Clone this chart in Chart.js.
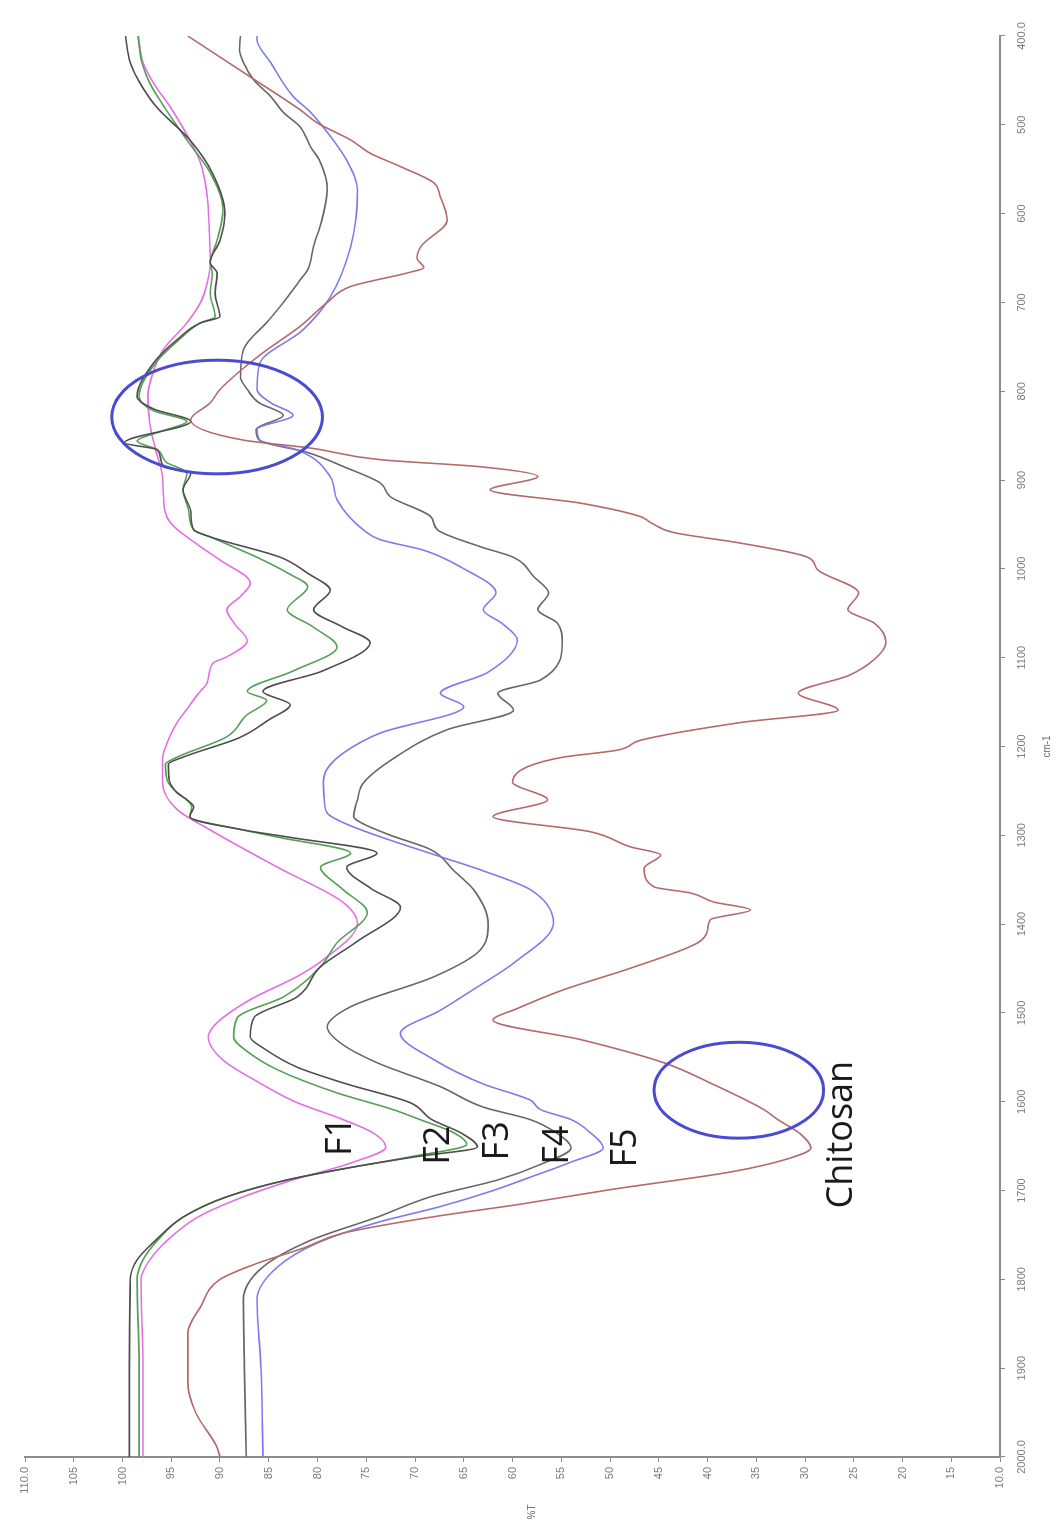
<!DOCTYPE html>
<html>
<head>
<meta charset="utf-8">
<script src="https://cdn.jsdelivr.net/npm/chart.js@4.4.0/dist/chart.umd.min.js"></script>
<style>
  html, body { margin: 0; padding: 0; background: #fff; }
  #page { position: relative; width: 1058px; height: 1526px; overflow: hidden; }
  /* the spectrum is printed turned a quarter turn, so draw it upright and rotate */
  #turn { position: absolute; left: 0; top: 0; width: 1526px; height: 1058px;
          transform-origin: 0 0; transform: translate(0, 1526px) rotate(-90deg); }
</style>
</head>
<body>
<div id="page"><div id="turn"><canvas id="ftir" width="1526" height="1058"></canvas></div></div>
<script>
// FTIR spectra, [wavenumber cm-1, %T]
const f1 = [[2000, 97.9], [1900, 97.9], [1800, 98.1], [1778, 97.2], [1756, 95.4], [1730, 92.3], [1707, 87.6], [1688, 82.5],
  [1669, 76.6], [1651, 73.0], [1635, 74.3], [1620, 77.4], [1600, 82.3], [1579, 85.9], [1553, 89.7], [1527, 91.2], [1511, 90.3],
  [1485, 86.9], [1459, 82.1], [1440, 79.4], [1399, 75.9], [1376, 77.3], [1336, 84.1], [1294, 91.0], [1271, 94.4], [1241, 95.9],
  [1215, 95.9], [1190, 95.2], [1173, 94.4], [1155, 93.2], [1140, 92.2], [1128, 91.3], [1106, 90.7], [1099, 89.3], [1081, 87.2],
  [1062, 88.5], [1046, 89.3], [1030, 87.8], [1016, 86.9], [990, 90.0], [975, 92.0], [948, 95.1], [919, 95.8], [896, 95.9],
  [866, 96.6], [836, 97.2], [806, 97.4], [780, 96.9], [753, 95.8], [723, 93.4], [700, 92.0], [678, 91.3], [655, 91.0],
  [620, 91.1], [581, 91.3], [543, 92.0], [517, 93.1], [480, 95.1], [455, 96.7], [430, 97.9], [400, 98.4]];

const f2 = [[2000, 98.3], [1900, 98.3], [1800, 98.5], [1778, 97.9], [1756, 96.4], [1730, 93.8], [1707, 89.3], [1688, 83.1],
  [1674, 76.6], [1662, 70.5], [1648, 64.7], [1635, 66.0], [1620, 69.5], [1609, 72.2], [1590, 78.0], [1564, 84.1], [1545, 87.0],
  [1527, 88.6], [1505, 88.2], [1482, 83.5], [1448, 79.7], [1421, 78.0], [1387, 74.9], [1360, 77.5], [1336, 79.7], [1320, 76.6],
  [1302, 84.1], [1294, 87.6], [1279, 93.1], [1268, 92.9], [1260, 93.4], [1252, 94.4], [1238, 95.4], [1220, 95.6], [1212, 94.4],
  [1189, 89.3], [1165, 87.3], [1148, 85.2], [1138, 87.2], [1115, 82.5], [1088, 78.0], [1065, 80.5], [1046, 83.1], [1020, 81.0],
  [1005, 83.0], [987, 86.2], [964, 91.0], [956, 92.7], [935, 93.2], [911, 93.8], [892, 93.4], [880, 95.5], [866, 96.4],
  [856, 98.5], [845, 96.0], [834, 93.4], [822, 96.8], [806, 98.3], [768, 96.6], [742, 94.2], [723, 92.0], [716, 90.5],
  [690, 91.0], [667, 90.8], [655, 91.0], [630, 90.3], [596, 89.7], [554, 91.0], [517, 93.4], [480, 95.7], [453, 97.2],
  [430, 98.0], [400, 98.4]];

const f3 = [[2000, 99.3], [1900, 99.3], [1800, 99.2], [1778, 98.5], [1756, 96.6], [1730, 93.8], [1707, 89.3], [1688, 83.1],
  [1674, 76.6], [1662, 70.0], [1651, 63.6], [1635, 65.3], [1620, 68.3], [1601, 70.5], [1580, 77.0], [1561, 82.1], [1540, 85.5],
  [1527, 86.9], [1505, 86.5], [1482, 82.1], [1448, 79.7], [1420, 76.0], [1381, 71.5], [1360, 74.5], [1336, 77.0], [1320, 73.9],
  [1302, 83.0], [1294, 87.6], [1279, 93.1], [1268, 92.7], [1260, 93.4], [1252, 94.4], [1238, 95.2], [1220, 95.3], [1212, 93.8],
  [1190, 88.0], [1170, 85.0], [1153, 82.8], [1138, 85.6], [1115, 79.5], [1083, 74.6], [1065, 77.5], [1046, 80.4], [1024, 78.7],
  [1005, 81.0], [987, 83.8], [964, 91.0], [956, 92.7], [935, 93.0], [911, 93.8], [892, 93.0], [885, 95.8], [866, 96.4],
  [858, 99.8], [834, 93.0], [820, 96.8], [806, 98.5], [768, 96.8], [742, 94.4], [723, 92.0], [716, 90.0], [690, 90.5],
  [667, 90.3], [655, 91.0], [630, 90.0], [600, 89.5], [554, 90.8], [517, 93.1], [480, 96.5], [453, 98.2], [430, 99.2],
  [400, 99.7]];

const f4 = [[2000, 87.3], [1900, 87.5], [1823, 87.6], [1786, 85.6], [1756, 80.7], [1730, 73.9], [1707, 68.4], [1688, 61.5],
  [1670, 57.0], [1652, 54.0], [1635, 55.5], [1620, 58.2], [1606, 63.0], [1583, 67.4], [1556, 73.9], [1535, 77.5], [1516, 79.0],
  [1493, 76.6], [1459, 68.0], [1429, 63.3], [1399, 62.5], [1361, 64.0], [1340, 66.0], [1316, 68.4], [1300, 72.5], [1286, 75.5],
  [1279, 76.3], [1260, 75.9], [1241, 75.3], [1212, 72.0], [1181, 66.7], [1159, 59.9], [1140, 61.5], [1125, 57.1], [1083, 54.9],
  [1061, 55.4], [1046, 57.4], [1027, 56.3], [1009, 57.8], [987, 59.9], [975, 63.3], [956, 67.7], [941, 68.4], [919, 72.5],
  [903, 73.6], [885, 77.3], [869, 81.0], [855, 86.0], [843, 86.3], [827, 83.5], [813, 86.0], [798, 87.2], [784, 87.9],
  [753, 87.6], [720, 85.0], [700, 83.5], [675, 81.8], [663, 81.0], [637, 80.4], [605, 79.5], [573, 79.0], [540, 79.8],
  [525, 80.7], [502, 81.8], [486, 83.5], [468, 84.8], [450, 86.5], [430, 87.6], [415, 88.0], [400, 87.9]];

const f5 = [[2000, 85.6], [1900, 85.8], [1823, 86.2], [1786, 84.1], [1759, 80.0], [1736, 73.9], [1718, 67.4], [1700, 62.0],
  [1685, 58.2], [1668, 54.0], [1652, 50.7], [1635, 52.0], [1620, 54.0], [1609, 57.1], [1598, 58.2], [1580, 63.0], [1553, 68.0],
  [1523, 71.5], [1497, 67.4], [1470, 63.5], [1444, 59.9], [1399, 55.8], [1361, 58.2], [1340, 63.0], [1324, 67.4], [1300, 74.0],
  [1286, 77.3], [1275, 79.0], [1260, 79.3], [1241, 79.4], [1225, 79.0], [1207, 77.3], [1185, 73.6], [1155, 65.0], [1140, 67.4],
  [1117, 62.6], [1080, 59.5], [1062, 61.0], [1046, 63.0], [1027, 61.7], [998, 65.3], [979, 69.1], [967, 73.6], [956, 75.3],
  [922, 78.0], [896, 78.7], [866, 82.1], [855, 85.9], [843, 86.2], [827, 82.5], [813, 84.8], [798, 86.2], [768, 85.9],
  [731, 81.5], [694, 78.7], [637, 76.6], [573, 75.9], [540, 77.0], [517, 78.4], [486, 80.7], [468, 82.5], [430, 84.8],
  [404, 86.2], [400, 86.2]];

const chitosan = [[2000, 90.0], [1989, 90.3], [1950, 92.5], [1917, 93.3], [1860, 93.3], [1831, 92.0], [1800, 90.0], [1782, 86.2],
  [1765, 81.5], [1748, 77.4], [1730, 68.4], [1715, 59.0], [1699, 50.0], [1679, 37.6], [1665, 32.0], [1652, 29.4], [1636, 30.5],
  [1620, 32.8], [1609, 34.2], [1580, 39.5], [1556, 44.5], [1530, 53.0], [1508, 62.0], [1495, 59.5], [1474, 54.8], [1450, 48.0],
  [1421, 41.0], [1407, 40.0], [1395, 39.7], [1384, 35.6], [1375, 39.4], [1365, 41.7], [1358, 45.5], [1337, 46.5], [1322, 44.8],
  [1313, 47.9], [1296, 52.0], [1279, 62.0], [1260, 56.4], [1240, 60.0], [1223, 58.5], [1212, 54.8], [1204, 49.2], [1193, 46.9],
  [1173, 36.6], [1159, 26.6], [1140, 30.7], [1120, 25.5], [1102, 22.9], [1083, 21.7], [1061, 22.9], [1046, 25.6], [1027, 24.5],
  [1001, 28.7], [987, 29.7], [971, 36.6], [959, 43.5], [948, 45.8], [941, 46.9], [926, 53.0], [911, 62.3], [896, 57.4],
  [885, 63.3], [877, 73.6], [864, 80.7], [855, 87.6], [832, 93.0], [813, 91.0], [798, 90.0], [760, 86.0], [727, 81.8],
  [700, 79.0], [682, 76.6], [666, 70.5], [661, 69.1], [650, 69.8], [637, 69.4], [607, 66.7], [581, 67.4], [565, 68.1],
  [547, 71.5], [532, 74.6], [517, 76.6], [498, 80.0], [483, 81.8], [446, 86.9], [400, 93.3]];

// curve labels written on the plot
const labelText = ['F1', 'F2', 'F3', 'F4', 'F5', 'Chitosan'];
const labelWn = [1639, 1649, 1644, 1649, 1652, 1637];
const labelT = [77.6, 67.6, 61.5, 55.4, 48.4, 26.2];

// the two hand drawn rings (centre and half widths in data units)
const ringWn = [829, 1587];
const ringT = [90.3, 36.8];
const ringHalfWn = [64, 54];
const ringHalfT = [10.8, 8.7];

const toXY = arr => arr.map(p => ({ x: p[0], y: p[1] }));

const notes = {
    id: 'notes',
    afterDatasetsDraw(chart) {
        const { ctx, scales: { x, y } } = chart;
        ctx.save();
        // rings
        ctx.strokeStyle = '#4b4bd2';
        ctx.lineWidth = 3;
        ringWn.forEach((wn, i) => {
            const cx = x.getPixelForValue(wn), cy = y.getPixelForValue(ringT[i]);
            const rx = Math.abs(x.getPixelForValue(wn + ringHalfWn[i]) - cx);
            const ry = Math.abs(y.getPixelForValue(ringT[i] + ringHalfT[i]) - cy);
            ctx.beginPath();
            ctx.ellipse(cx, cy, rx, ry, 0, 0, Math.PI * 2);
            ctx.stroke();
        });
        // labels
        ctx.fillStyle = '#1a1a1a';
        ctx.font = '36px "Open Sans", sans-serif';
        ctx.textAlign = 'center';
        ctx.textBaseline = 'middle';
        labelText.forEach((t, i) => ctx.fillText(t, x.getPixelForValue(labelWn[i]), y.getPixelForValue(labelT[i])));
        // y axis name
        ctx.fillStyle = '#6a6a6a';
        ctx.font = '10px "Liberation Sans", sans-serif';
        ctx.fillText('%T', 14, y.getPixelForValue(58));
        ctx.restore();
    }
};

const axisGrey = '#8c8c8c';
const tickFont = { family: '"Liberation Sans", sans-serif', size: 11 };

new Chart(document.getElementById('ftir'), {
    type: 'line',
    data: {
        datasets: [
            { label: 'Chitosan', data: toXY(chitosan), borderColor: '#b46a6a' },
            { label: 'F5', data: toXY(f5), borderColor: '#7b7bee' },
            { label: 'F4', data: toXY(f4), borderColor: '#676767' },
            { label: 'F3', data: toXY(f3), borderColor: '#4e4e4e' },
            { label: 'F2', data: toXY(f2), borderColor: '#55a055' },
            { label: 'F1', data: toXY(f1), borderColor: '#e46ee4' }
        ]
    },
    options: {
        responsive: false,
        animation: false,
        devicePixelRatio: 1,
        layout: { padding: { top: 25, right: 36, left: 0, bottom: 0 } },
        elements: {
            point: { radius: 0 },
            line: { borderWidth: 1.6, cubicInterpolationMode: 'monotone', fill: false }
        },
        plugins: { legend: { display: false }, tooltip: { enabled: false } },
        scales: {
            x: {
                type: 'linear', reverse: true, min: 400, max: 2000,
                afterFit: s => { s.height = 58; },
                border: { color: axisGrey, width: 2 },
                grid: { drawOnChartArea: false, tickLength: 5, color: axisGrey },
                ticks: {
                    stepSize: 100, autoSkip: false, maxRotation: 0, padding: 10, color: '#7a7a7a', font: tickFont,
                    callback: v => (v === 2000 || v === 400) ? v.toFixed(1) : String(v)
                },
                title: { display: true, text: 'cm-1', color: '#6a6a6a', font: { family: '"Liberation Sans", sans-serif', size: 10 }, padding: { top: 0, bottom: 5 } }
            },
            y: {
                type: 'linear', min: 10, max: 110,
                afterFit: s => { s.width = 69; },
                border: { color: axisGrey, width: 2 },
                grid: { drawOnChartArea: false, tickLength: 5, color: axisGrey },
                ticks: {
                    stepSize: 5, autoSkip: false, padding: 5, color: '#7a7a7a', font: tickFont,
                    callback: v => (v === 110 || v === 10) ? v.toFixed(1) : String(v)
                }
            }
        }
    },
    plugins: [notes]
});
</script>
</body>
</html>
